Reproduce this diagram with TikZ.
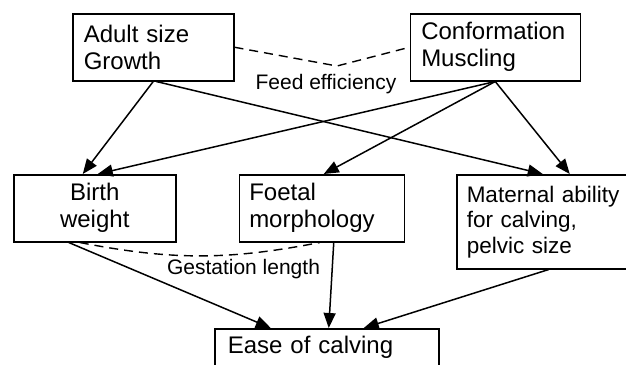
\documentclass[tikz,border=0pt]{standalone}
\usepackage{fontspec}
\setmainfont{Liberation Sans}
\usetikzlibrary{arrows.meta,positioning}
\tikzstyle{trait}=[rectangle,draw=black,line width=1.5pt,anchor=north west,
inner ysep=0pt,align=left,font=\fontsize{24}{27}\selectfont]
\tikzstyle{link}=[line width=1.5pt]
\tikzstyle{corr}=[line width=1.4pt,dash pattern=on 9pt off 6pt]
\tikzstyle{note}=[font=\fontsize{21}{24}\selectfont,inner sep=0pt]

\begin{document}
\begin{tikzpicture}[x=1pt,y=-1pt,>={Triangle[length=15pt,width=12pt]}]
            \useasboundingbox (0,0) rectangle (626,364);

            % TOP ROW
            \node[trait,inner xsep=11pt,text width=139pt,minimum height=67pt] at (72,13) (adult) {Adult size\\Growth};
            \node[trait,inner xsep=11pt,text width=148pt,minimum height=67pt,right=175pt of adult] (conf) {Conformation\\Muscling};

            % MIDDLE ROW
            \node[trait,align=center,text width=162pt,inner xsep=0pt,minimum height=67pt] at (13,174) (birth) {Birth\\weight};
            \node[trait,inner xsep=10pt,text width=145pt,minimum height=67pt,right=62pt of birth] (foetal) {Foetal\\morphology};
            \node[trait,inner xsep=10pt,text width=156pt,minimum height=94pt,font=\fontsize{22.5}{25.5}\selectfont,
                  right=51pt of foetal.north east,anchor=north west] (mat) {Maternal ability\\for calving,\\pelvic size};

            % BOTTOM ROW
            \node[trait,inner xsep=13pt,text width=198pt,minimum height=37pt] at (214,328) (ease) {Ease of calving};

            % Correlations
            \coordinate (fdip) at (337,66);
            \draw[corr] (adult.east) -- (fdip) -- (conf.west);
            \node[note] at (326,84.5) (feed) {Feed efficiency};
            \draw[corr] ([xshift=-15pt]birth.south) to[bend right=11] ([xshift=-2pt]foetal.south);
            \node[note] at (243.5,269.5) (gest) {Gestation length};

            % Effects
            \path[link,->] (adult.south) edge ([xshift=-12pt]birth.north);
            \path[link,->] ([xshift=3pt]adult.south) edge ([xshift=-2pt]mat.north);
            \path[link,->] (conf.south) edge ([xshift=3pt]birth.north);
            \path[link,->] (conf.south) edge ([xshift=2pt]foetal.north);
            \path[link,->] (conf.south) edge ([xshift=25pt]mat.north);
            \path[link,->] ([xshift=-26pt]birth.south) edge ([xshift=-56pt]ease.north);
            \path[link,->] ([xshift=12pt]foetal.south) edge ([xshift=2pt]ease.north);
            \path[link,->] ([xshift=4pt]mat.south) edge ([xshift=37pt]ease.north);

        \end{tikzpicture}
\end{document}
